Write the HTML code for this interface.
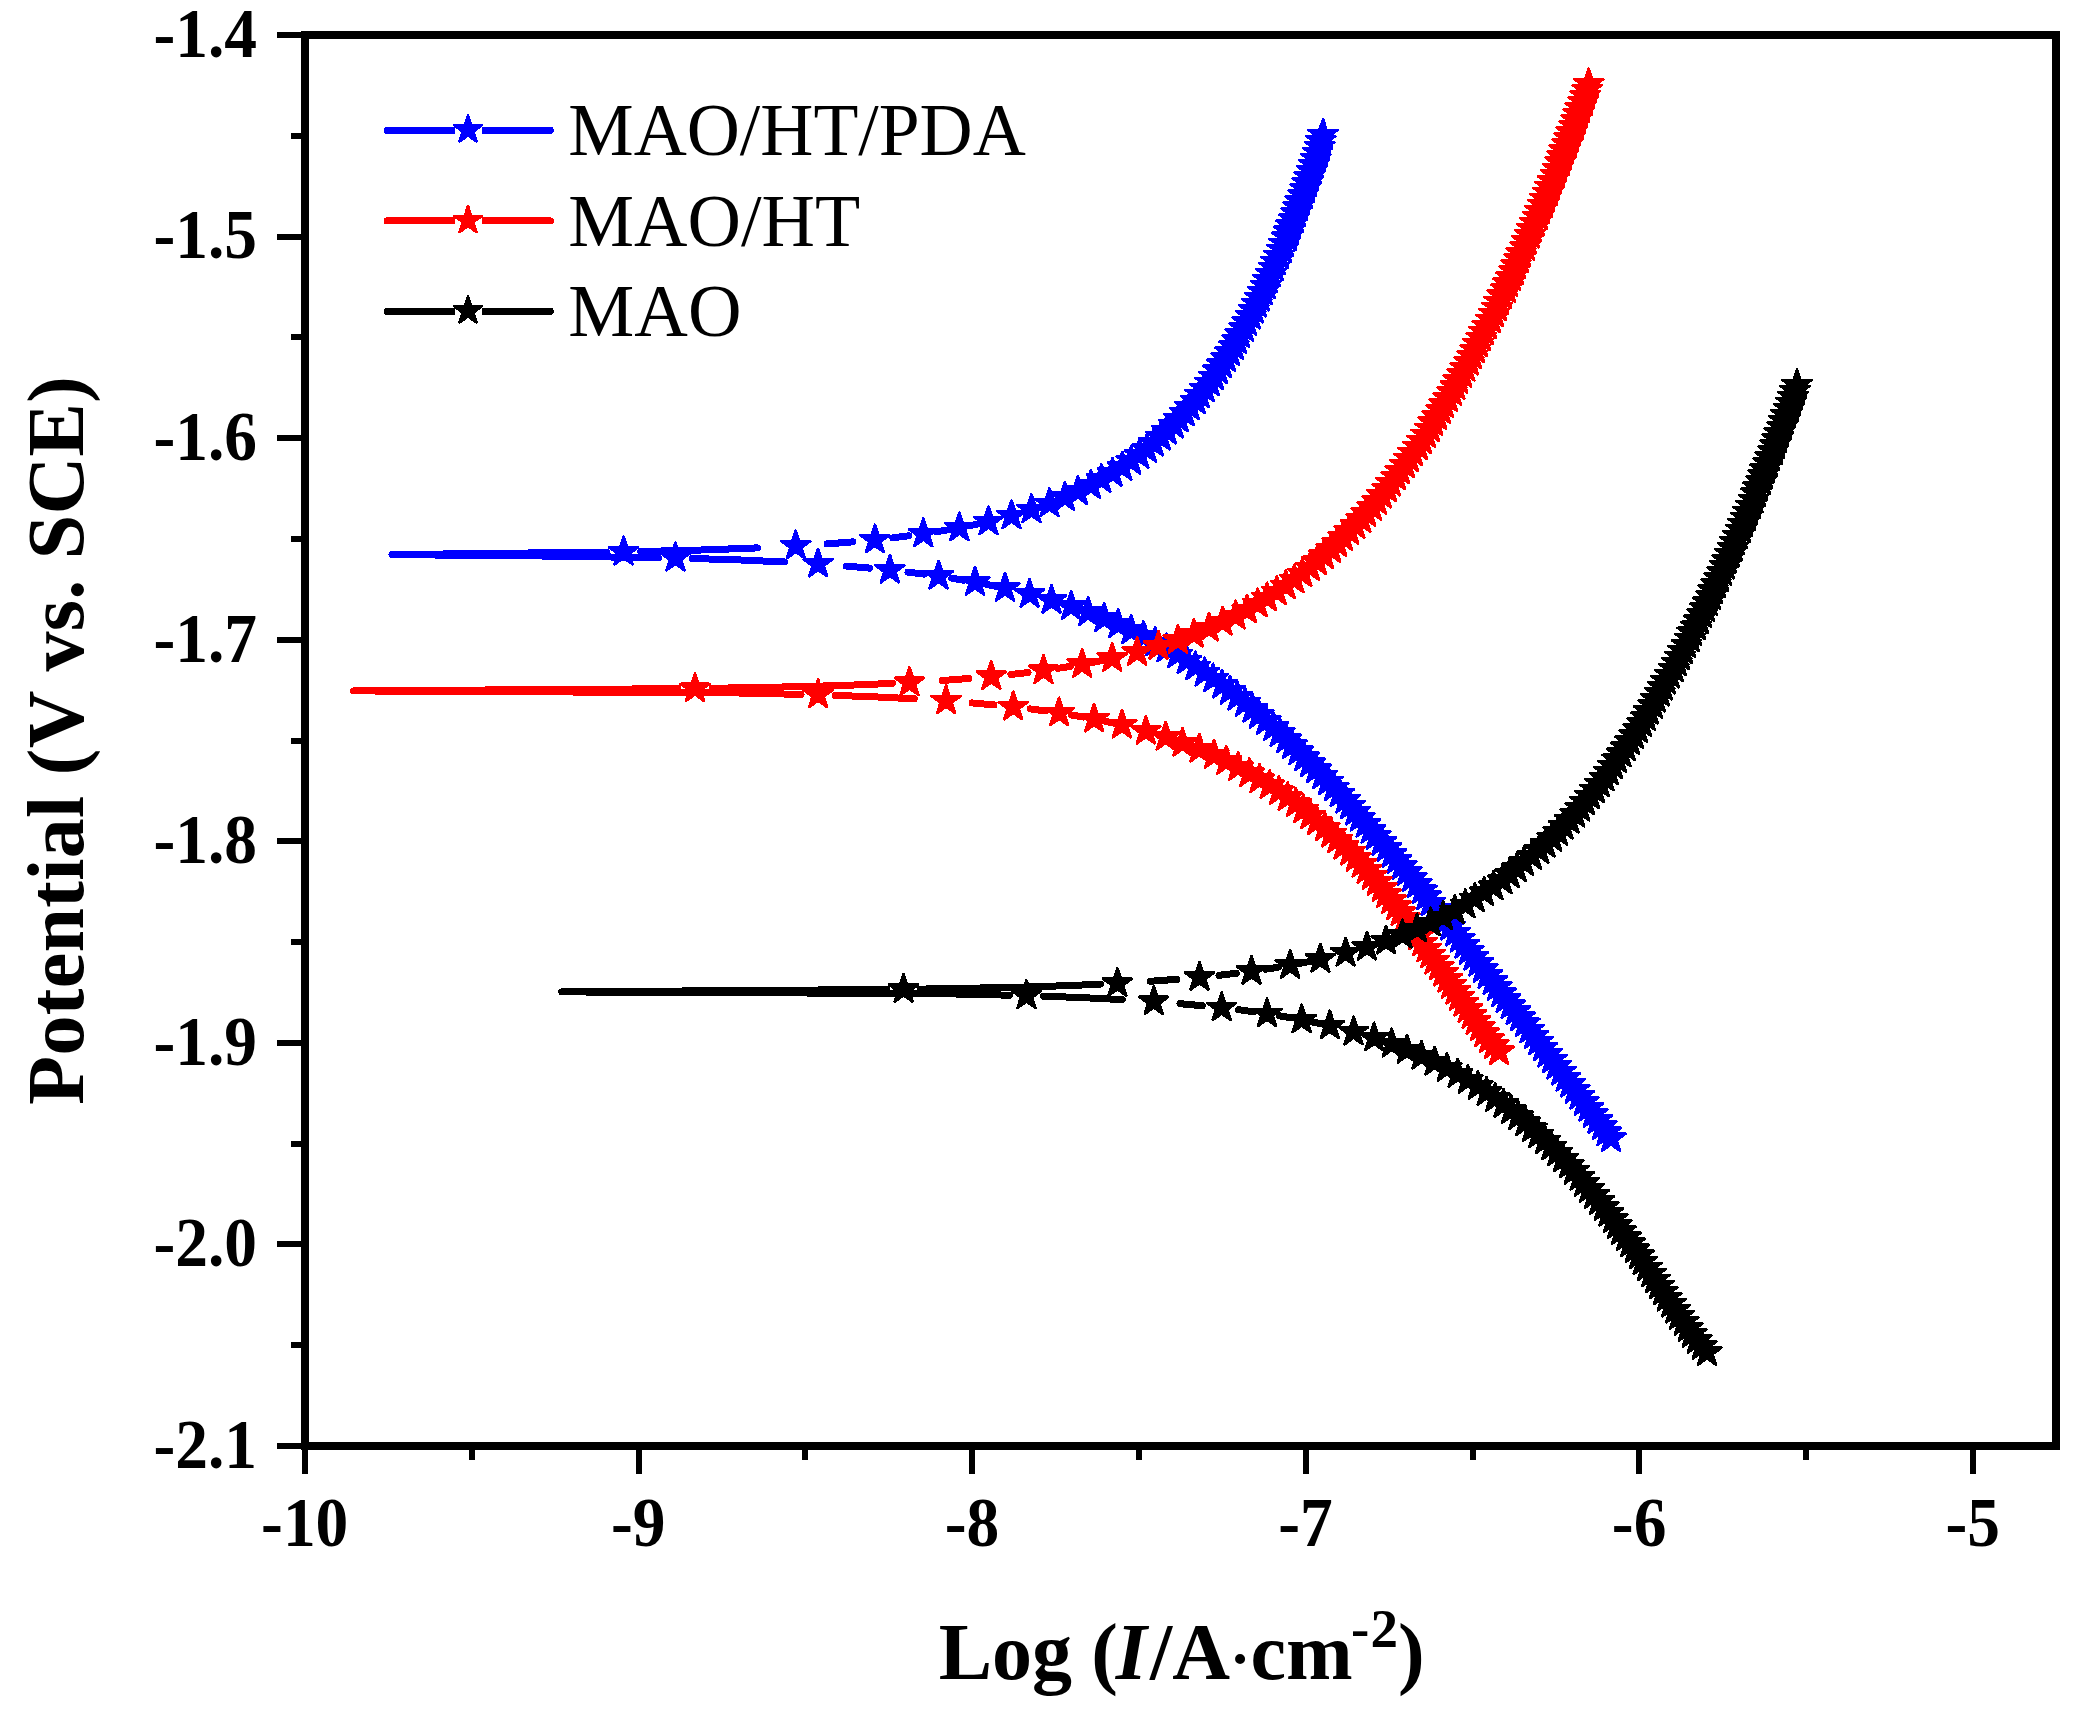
<!DOCTYPE html>
<html lang="en"><head><meta charset="utf-8"><title>Polarization curves</title>
<style>html,body{margin:0;padding:0;background:#fff}svg{display:block}text{font-family:"Liberation Serif","Times New Roman",serif;fill:#000}.tk{font-weight:bold;font-size:70px}.ti{font-weight:bold;font-size:80px}.lg{font-size:75px}</style></head><body>
<svg width="2079" height="1712" viewBox="0 0 2079 1712">
<rect width="2079" height="1712" fill="#fff"/>
<defs><polygon id="st" points="0,-15.1 3.4,-4.7 14.4,-4.7 5.5,1.8 8.9,12.2 0,5.8 -8.9,12.2 -5.5,1.8 -14.4,-4.7 -3.4,-4.7"/></defs>
<g fill="#0000ff" stroke="#0000ff">
<path d="M979.4 523.7L969.8 525.7M948.4 529.8L936.4 531.8M908.9 535.8L892.9 537.8M852.8 541.9L827 543.9M757.4 547.9L705.2 549.9L640.6 551.5M606.6 552.1L392 554.6L541.4 556L658.4 557.7M692.4 558.5L740.6 560L784.7 562M846.2 566.1L869.7 568.1M908 572.1L924.1 574.1M951.8 578.2L963.8 580.2M985.7 584.2L995.6 586.2" fill="none" stroke-width="7" stroke-linecap="round" stroke-linejoin="round" shape-rendering="crispEdges"/>
<g stroke-width="2.8" stroke-linejoin="round" shape-rendering="crispEdges">
<use href="#st" x="1323.1" y="134.7"/><use href="#st" x="1320.9" y="140.8"/><use href="#st" x="1319.9" y="146.8"/><use href="#st" x="1317.7" y="152.8"/><use href="#st" x="1315.9" y="158.9"/><use href="#st" x="1313.9" y="164.9"/><use href="#st" x="1311.8" y="171"/><use href="#st" x="1309.1" y="177"/><use href="#st" x="1307.1" y="183.1"/><use href="#st" x="1305.1" y="189.1"/><use href="#st" x="1303" y="195.2"/><use href="#st" x="1300" y="201.2"/><use href="#st" x="1298" y="207.3"/><use href="#st" x="1296" y="213.3"/><use href="#st" x="1293.9" y="219.4"/><use href="#st" x="1290.9" y="225.4"/><use href="#st" x="1288.9" y="231.5"/><use href="#st" x="1286.9" y="237.5"/><use href="#st" x="1284" y="243.6"/><use href="#st" x="1282" y="249.6"/><use href="#st" x="1278.9" y="255.6"/><use href="#st" x="1275.9" y="261.7"/><use href="#st" x="1273.9" y="267.7"/><use href="#st" x="1270.9" y="273.8"/><use href="#st" x="1267.8" y="279.8"/><use href="#st" x="1265.8" y="285.9"/><use href="#st" x="1262.8" y="291.9"/><use href="#st" x="1259.9" y="298"/><use href="#st" x="1256.9" y="304"/><use href="#st" x="1253.8" y="310.1"/><use href="#st" x="1250.8" y="316.1"/><use href="#st" x="1246.9" y="322.2"/><use href="#st" x="1243.9" y="328.2"/><use href="#st" x="1239.9" y="334.3"/><use href="#st" x="1236.9" y="340.3"/><use href="#st" x="1233.9" y="346.4"/><use href="#st" x="1229.9" y="352.4"/><use href="#st" x="1226" y="358.4"/><use href="#st" x="1221.9" y="364.5"/><use href="#st" x="1217.9" y="370.5"/><use href="#st" x="1213.9" y="376.6"/><use href="#st" x="1209.8" y="382.6"/><use href="#st" x="1204.8" y="388.7"/><use href="#st" x="1199.9" y="394.7"/><use href="#st" x="1195.8" y="400.8"/><use href="#st" x="1189.8" y="406.8"/><use href="#st" x="1184.8" y="412.9"/><use href="#st" x="1178.8" y="418.9"/><use href="#st" x="1173.9" y="425"/><use href="#st" x="1166.8" y="431"/><use href="#st" x="1160.8" y="437.1"/><use href="#st" x="1153.8" y="443.1"/><use href="#st" x="1146.9" y="449.2"/><use href="#st" x="1139.4" y="455.2"/><use href="#st" x="1131.2" y="461.2"/><use href="#st" x="1122.4" y="467.3"/><use href="#st" x="1112.6" y="473.3"/><use href="#st" x="1101.4" y="479.4"/><use href="#st" x="1090.9" y="485.4"/><use href="#st" x="1077.9" y="491.5"/><use href="#st" x="1064.9" y="497.5"/><use href="#st" x="1049.5" y="503.6"/><use href="#st" x="1031.5" y="509.6"/><use href="#st" x="1011.5" y="515.7"/><use href="#st" x="988.5" y="521.7"/><use href="#st" x="959.4" y="527.8"/><use href="#st" x="923.3" y="533.8"/><use href="#st" x="874.9" y="539.9"/><use href="#st" x="795.8" y="545.9"/><use href="#st" x="623.6" y="552"/><use href="#st" x="675.4" y="558"/><use href="#st" x="818.1" y="564"/><use href="#st" x="889.9" y="570.1"/><use href="#st" x="938.6" y="576.1"/><use href="#st" x="975" y="582.2"/><use href="#st" x="1005" y="588.2"/><use href="#st" x="1029.6" y="594.3"/><use href="#st" x="1051.5" y="600.3"/><use href="#st" x="1071.1" y="606.4"/><use href="#st" x="1088.3" y="612.4"/><use href="#st" x="1104.3" y="618.5"/><use href="#st" x="1118.3" y="624.5"/><use href="#st" x="1131.3" y="630.6"/><use href="#st" x="1143.5" y="636.6"/><use href="#st" x="1155.1" y="642.7"/><use href="#st" x="1166.5" y="648.7"/><use href="#st" x="1177.3" y="654.8"/><use href="#st" x="1186.7" y="660.8"/><use href="#st" x="1195.4" y="666.8"/><use href="#st" x="1204.7" y="672.9"/><use href="#st" x="1213.1" y="678.9"/><use href="#st" x="1222.1" y="685"/><use href="#st" x="1230" y="691"/><use href="#st" x="1237.4" y="697.1"/><use href="#st" x="1245.1" y="703.1"/><use href="#st" x="1252.4" y="709.2"/><use href="#st" x="1258.9" y="715.2"/><use href="#st" x="1266.1" y="721.3"/><use href="#st" x="1273.3" y="727.3"/><use href="#st" x="1279.8" y="733.4"/><use href="#st" x="1286.3" y="739.4"/><use href="#st" x="1292" y="745.5"/><use href="#st" x="1298.5" y="751.5"/><use href="#st" x="1304.3" y="757.6"/><use href="#st" x="1310.1" y="763.6"/><use href="#st" x="1316.1" y="769.6"/><use href="#st" x="1322.3" y="775.7"/><use href="#st" x="1328.1" y="781.7"/><use href="#st" x="1333.9" y="787.8"/><use href="#st" x="1339.7" y="793.8"/><use href="#st" x="1345.4" y="799.9"/><use href="#st" x="1350" y="805.9"/><use href="#st" x="1355.2" y="812"/><use href="#st" x="1359.9" y="818"/><use href="#st" x="1365.7" y="824.1"/><use href="#st" x="1370.7" y="830.1"/><use href="#st" x="1375.8" y="836.2"/><use href="#st" x="1381.6" y="842.2"/><use href="#st" x="1386.6" y="848.3"/><use href="#st" x="1391.7" y="854.3"/><use href="#st" x="1396.7" y="860.3"/><use href="#st" x="1401.8" y="866.4"/><use href="#st" x="1406.8" y="872.4"/><use href="#st" x="1411.9" y="878.5"/><use href="#st" x="1416.9" y="884.5"/><use href="#st" x="1422" y="890.6"/><use href="#st" x="1426.3" y="896.6"/><use href="#st" x="1430.7" y="902.7"/><use href="#st" x="1435" y="908.7"/><use href="#st" x="1439.8" y="914.8"/><use href="#st" x="1445" y="920.8"/><use href="#st" x="1450.2" y="926.9"/><use href="#st" x="1455.2" y="932.9"/><use href="#st" x="1459.9" y="939"/><use href="#st" x="1464.6" y="945"/><use href="#st" x="1468.9" y="951.1"/><use href="#st" x="1473.5" y="957.1"/><use href="#st" x="1478.3" y="963.1"/><use href="#st" x="1482.9" y="969.2"/><use href="#st" x="1487.6" y="975.2"/><use href="#st" x="1492.7" y="981.3"/><use href="#st" x="1497" y="987.3"/><use href="#st" x="1501.4" y="993.4"/><use href="#st" x="1505.7" y="999.4"/><use href="#st" x="1510.7" y="1005.5"/><use href="#st" x="1515.8" y="1011.5"/><use href="#st" x="1520.1" y="1017.6"/><use href="#st" x="1524.9" y="1023.6"/><use href="#st" x="1529.5" y="1029.7"/><use href="#st" x="1533.8" y="1035.7"/><use href="#st" x="1538.2" y="1041.8"/><use href="#st" x="1542.8" y="1047.8"/><use href="#st" x="1547.4" y="1053.9"/><use href="#st" x="1552" y="1059.9"/><use href="#st" x="1556.5" y="1065.9"/><use href="#st" x="1561.1" y="1072"/><use href="#st" x="1565.7" y="1078"/><use href="#st" x="1570.2" y="1084.1"/><use href="#st" x="1574.8" y="1090.1"/><use href="#st" x="1579.3" y="1096.2"/><use href="#st" x="1583.9" y="1102.2"/><use href="#st" x="1588.4" y="1108.3"/><use href="#st" x="1592.9" y="1114.3"/><use href="#st" x="1597.5" y="1120.4"/><use href="#st" x="1602" y="1126.4"/><use href="#st" x="1606.5" y="1132.5"/><use href="#st" x="1611" y="1138.5"/>
</g></g>
<g fill="#ff0000" stroke="#ff0000">
<path d="M1102.9 660.4L1092.9 662.4M1070.4 666.4L1057.6 668.4M1028.1 672.5L1010.9 674.5M968.9 678.5L942.3 680.5M892.5 683.3L866.4 684.6L804.8 686.6L712 688.3M678 688.7L353.7 690.9L730.2 692.8L801.1 694.4M835.1 695.4L873.9 696.8L914.3 698.8M972 702.9L994 704.9M1030.1 708.9L1045.3 710.9M1071.7 715L1083.3 717M1104 721L1113.2 723" fill="none" stroke-width="7" stroke-linecap="round" stroke-linejoin="round" shape-rendering="crispEdges"/>
<g stroke-width="2.8" stroke-linejoin="round" shape-rendering="crispEdges">
<use href="#st" x="1588.8" y="83.9"/><use href="#st" x="1587.2" y="89.9"/><use href="#st" x="1585.1" y="96"/><use href="#st" x="1583.2" y="102"/><use href="#st" x="1580.1" y="108.1"/><use href="#st" x="1578.1" y="114.1"/><use href="#st" x="1576.1" y="120.2"/><use href="#st" x="1574.2" y="126.2"/><use href="#st" x="1571.2" y="132.3"/><use href="#st" x="1569.2" y="138.3"/><use href="#st" x="1567.2" y="144.4"/><use href="#st" x="1564.1" y="150.4"/><use href="#st" x="1562.1" y="156.5"/><use href="#st" x="1560.2" y="162.5"/><use href="#st" x="1557.2" y="168.6"/><use href="#st" x="1555.2" y="174.6"/><use href="#st" x="1552.2" y="180.7"/><use href="#st" x="1550.1" y="186.7"/><use href="#st" x="1548.1" y="192.7"/><use href="#st" x="1545.1" y="198.8"/><use href="#st" x="1543.1" y="204.8"/><use href="#st" x="1540" y="210.9"/><use href="#st" x="1538" y="216.9"/><use href="#st" x="1535" y="223"/><use href="#st" x="1532" y="229"/><use href="#st" x="1529.9" y="235.1"/><use href="#st" x="1526.9" y="241.1"/><use href="#st" x="1524.9" y="247.2"/><use href="#st" x="1521" y="253.2"/><use href="#st" x="1519" y="259.3"/><use href="#st" x="1516.1" y="265.3"/><use href="#st" x="1514.1" y="271.4"/><use href="#st" x="1511" y="277.4"/><use href="#st" x="1508" y="283.5"/><use href="#st" x="1506" y="289.5"/><use href="#st" x="1502.1" y="295.5"/><use href="#st" x="1499" y="301.6"/><use href="#st" x="1497" y="307.6"/><use href="#st" x="1494.1" y="313.7"/><use href="#st" x="1491" y="319.7"/><use href="#st" x="1487.2" y="325.8"/><use href="#st" x="1484" y="331.8"/><use href="#st" x="1481.2" y="337.9"/><use href="#st" x="1478" y="343.9"/><use href="#st" x="1475.1" y="350"/><use href="#st" x="1472.1" y="356"/><use href="#st" x="1469" y="362.1"/><use href="#st" x="1465.3" y="368.1"/><use href="#st" x="1462.1" y="374.2"/><use href="#st" x="1458.1" y="380.2"/><use href="#st" x="1455.3" y="386.3"/><use href="#st" x="1452.1" y="392.3"/><use href="#st" x="1448" y="398.3"/><use href="#st" x="1444" y="404.4"/><use href="#st" x="1441.1" y="410.4"/><use href="#st" x="1437.2" y="416.5"/><use href="#st" x="1433.2" y="422.5"/><use href="#st" x="1430" y="428.6"/><use href="#st" x="1426.1" y="434.6"/><use href="#st" x="1422.1" y="440.7"/><use href="#st" x="1418" y="446.7"/><use href="#st" x="1413.1" y="452.8"/><use href="#st" x="1409.1" y="458.8"/><use href="#st" x="1405" y="464.9"/><use href="#st" x="1400.1" y="470.9"/><use href="#st" x="1396.1" y="477"/><use href="#st" x="1391" y="483"/><use href="#st" x="1387.1" y="489"/><use href="#st" x="1381.9" y="495.1"/><use href="#st" x="1377" y="501.1"/><use href="#st" x="1372" y="507.2"/><use href="#st" x="1366.1" y="513.2"/><use href="#st" x="1361.2" y="519.3"/><use href="#st" x="1355.3" y="525.3"/><use href="#st" x="1349.2" y="531.4"/><use href="#st" x="1343.1" y="537.4"/><use href="#st" x="1337.2" y="543.5"/><use href="#st" x="1331.2" y="549.5"/><use href="#st" x="1323.9" y="555.6"/><use href="#st" x="1317" y="561.6"/><use href="#st" x="1310.2" y="567.7"/><use href="#st" x="1302.3" y="573.7"/><use href="#st" x="1294.4" y="579.8"/><use href="#st" x="1285.9" y="585.8"/><use href="#st" x="1276.9" y="591.8"/><use href="#st" x="1267.1" y="597.9"/><use href="#st" x="1257.7" y="603.9"/><use href="#st" x="1247.1" y="610"/><use href="#st" x="1235.7" y="616"/><use href="#st" x="1222.7" y="622.1"/><use href="#st" x="1209" y="628.1"/><use href="#st" x="1193.8" y="634.2"/><use href="#st" x="1177.9" y="640.2"/><use href="#st" x="1158.5" y="646.3"/><use href="#st" x="1137.2" y="652.3"/><use href="#st" x="1112.2" y="658.4"/><use href="#st" x="1082.2" y="664.4"/><use href="#st" x="1043.5" y="670.5"/><use href="#st" x="991.3" y="676.5"/><use href="#st" x="909.5" y="682.6"/><use href="#st" x="695" y="688.6"/><use href="#st" x="818.1" y="694.8"/><use href="#st" x="946.1" y="700.8"/><use href="#st" x="1013.2" y="706.9"/><use href="#st" x="1059.1" y="712.9"/><use href="#st" x="1094.1" y="719"/><use href="#st" x="1121.9" y="725"/><use href="#st" x="1145.8" y="731.1"/><use href="#st" x="1165.7" y="737.1"/><use href="#st" x="1182.5" y="743.2"/><use href="#st" x="1199.3" y="749.2"/><use href="#st" x="1214" y="755.3"/><use href="#st" x="1226.3" y="761.3"/><use href="#st" x="1238.2" y="767.4"/><use href="#st" x="1249.4" y="773.4"/><use href="#st" x="1259.5" y="779.5"/><use href="#st" x="1269.6" y="785.5"/><use href="#st" x="1278.9" y="791.6"/><use href="#st" x="1287.6" y="797.6"/><use href="#st" x="1295.9" y="803.6"/><use href="#st" x="1303.4" y="809.7"/><use href="#st" x="1310.3" y="815.7"/><use href="#st" x="1316.9" y="821.8"/><use href="#st" x="1324.9" y="827.8"/><use href="#st" x="1331.3" y="833.9"/><use href="#st" x="1337.1" y="839.9"/><use href="#st" x="1343.6" y="846"/><use href="#st" x="1350.1" y="852"/><use href="#st" x="1355.9" y="858.1"/><use href="#st" x="1361.7" y="864.1"/><use href="#st" x="1366.7" y="870.2"/><use href="#st" x="1371.8" y="876.2"/><use href="#st" x="1376.8" y="882.3"/><use href="#st" x="1381.9" y="888.3"/><use href="#st" x="1386.2" y="894.4"/><use href="#st" x="1391.2" y="900.4"/><use href="#st" x="1396.3" y="906.4"/><use href="#st" x="1400.6" y="912.5"/><use href="#st" x="1404.9" y="918.5"/><use href="#st" x="1409.3" y="924.6"/><use href="#st" x="1413.6" y="930.6"/><use href="#st" x="1418" y="936.7"/><use href="#st" x="1422.3" y="942.7"/><use href="#st" x="1426.6" y="948.8"/><use href="#st" x="1430.2" y="954.8"/><use href="#st" x="1434.5" y="960.9"/><use href="#st" x="1438.9" y="966.9"/><use href="#st" x="1443.2" y="973"/><use href="#st" x="1447.5" y="979"/><use href="#st" x="1451.1" y="985.1"/><use href="#st" x="1455.4" y="991.1"/><use href="#st" x="1459.1" y="997.1"/><use href="#st" x="1463.4" y="1003.2"/><use href="#st" x="1467.7" y="1009.2"/><use href="#st" x="1471.6" y="1015.3"/><use href="#st" x="1475.6" y="1021.3"/><use href="#st" x="1480" y="1027.4"/><use href="#st" x="1484.3" y="1033.4"/><use href="#st" x="1489" y="1039.5"/><use href="#st" x="1493.9" y="1045.5"/><use href="#st" x="1499.1" y="1051.6"/>
</g></g>
<g fill="#000000" stroke="#000000">
<path d="M1311 961.2L1301 963.2M1278.4 967.2L1265.6 969.2M1236.2 973.3L1219 975.3M1177 979.3L1150.3 981.3M1100.4 984.1L1074.4 985.4L1012.9 987.4L920.6 989.1M886.6 989.5L561.8 991.9L938.3 993.6L1009.5 995.2M1043.5 996.2L1082 997.6L1122.2 999.6M1180 1003.7L1202.3 1005.7M1238.4 1009.7L1253.4 1011.7M1279.5 1015.8L1291 1017.8M1311.7 1021.8L1321 1023.8" fill="none" stroke-width="7" stroke-linecap="round" stroke-linejoin="round" shape-rendering="crispEdges"/>
<g stroke-width="2.8" stroke-linejoin="round" shape-rendering="crispEdges">
<use href="#st" x="1797" y="384.7"/><use href="#st" x="1795.1" y="390.7"/><use href="#st" x="1793" y="396.8"/><use href="#st" x="1791" y="402.8"/><use href="#st" x="1789" y="408.9"/><use href="#st" x="1786.1" y="414.9"/><use href="#st" x="1783.9" y="421"/><use href="#st" x="1782.1" y="427"/><use href="#st" x="1779.1" y="433.1"/><use href="#st" x="1777" y="439.1"/><use href="#st" x="1775.1" y="445.2"/><use href="#st" x="1773.1" y="451.2"/><use href="#st" x="1770.1" y="457.3"/><use href="#st" x="1768" y="463.3"/><use href="#st" x="1765" y="469.4"/><use href="#st" x="1763" y="475.4"/><use href="#st" x="1761.1" y="481.5"/><use href="#st" x="1758" y="487.5"/><use href="#st" x="1756" y="493.5"/><use href="#st" x="1753.4" y="499.6"/><use href="#st" x="1750.9" y="505.6"/><use href="#st" x="1748" y="511.7"/><use href="#st" x="1746" y="517.7"/><use href="#st" x="1743.1" y="523.8"/><use href="#st" x="1741" y="529.8"/><use href="#st" x="1737.8" y="535.9"/><use href="#st" x="1734.9" y="541.9"/><use href="#st" x="1732.8" y="548"/><use href="#st" x="1729.9" y="554"/><use href="#st" x="1727" y="560.1"/><use href="#st" x="1724.8" y="566.1"/><use href="#st" x="1722" y="572.2"/><use href="#st" x="1719.1" y="578.2"/><use href="#st" x="1715.9" y="584.3"/><use href="#st" x="1713" y="590.3"/><use href="#st" x="1710.9" y="596.3"/><use href="#st" x="1707.8" y="602.4"/><use href="#st" x="1704.9" y="608.4"/><use href="#st" x="1702.1" y="614.5"/><use href="#st" x="1698.9" y="620.5"/><use href="#st" x="1696" y="626.6"/><use href="#st" x="1692.1" y="632.6"/><use href="#st" x="1689.9" y="638.7"/><use href="#st" x="1686.2" y="644.7"/><use href="#st" x="1683" y="650.8"/><use href="#st" x="1680.1" y="656.8"/><use href="#st" x="1676.9" y="662.9"/><use href="#st" x="1673.9" y="668.9"/><use href="#st" x="1670" y="675"/><use href="#st" x="1666" y="681"/><use href="#st" x="1662.8" y="687"/><use href="#st" x="1659.9" y="693.1"/><use href="#st" x="1655.9" y="699.1"/><use href="#st" x="1653" y="705.2"/><use href="#st" x="1648.8" y="711.2"/><use href="#st" x="1645.8" y="717.3"/><use href="#st" x="1641.9" y="723.3"/><use href="#st" x="1638" y="729.4"/><use href="#st" x="1634.1" y="735.4"/><use href="#st" x="1630" y="741.5"/><use href="#st" x="1625.8" y="747.5"/><use href="#st" x="1621.4" y="753.6"/><use href="#st" x="1617.1" y="759.6"/><use href="#st" x="1613" y="765.7"/><use href="#st" x="1608.8" y="771.7"/><use href="#st" x="1604.6" y="777.8"/><use href="#st" x="1599.8" y="783.8"/><use href="#st" x="1595" y="789.8"/><use href="#st" x="1590" y="795.9"/><use href="#st" x="1585" y="801.9"/><use href="#st" x="1580.2" y="808"/><use href="#st" x="1575.2" y="814"/><use href="#st" x="1569.5" y="820.1"/><use href="#st" x="1563.7" y="826.1"/><use href="#st" x="1557.9" y="832.2"/><use href="#st" x="1552.2" y="838.2"/><use href="#st" x="1545.7" y="844.3"/><use href="#st" x="1539.2" y="850.3"/><use href="#st" x="1532" y="856.4"/><use href="#st" x="1524" y="862.4"/><use href="#st" x="1516.8" y="868.5"/><use href="#st" x="1509.6" y="874.5"/><use href="#st" x="1502.4" y="880.6"/><use href="#st" x="1493.4" y="886.6"/><use href="#st" x="1484.2" y="892.6"/><use href="#st" x="1474.8" y="898.7"/><use href="#st" x="1465.4" y="904.7"/><use href="#st" x="1454.9" y="910.8"/><use href="#st" x="1443.1" y="916.8"/><use href="#st" x="1430.8" y="922.9"/><use href="#st" x="1417.1" y="928.9"/><use href="#st" x="1402.4" y="935"/><use href="#st" x="1386.1" y="941"/><use href="#st" x="1367" y="947.1"/><use href="#st" x="1345.7" y="953.1"/><use href="#st" x="1320.4" y="959.2"/><use href="#st" x="1290.2" y="965.2"/><use href="#st" x="1251.5" y="971.3"/><use href="#st" x="1199.5" y="977.3"/><use href="#st" x="1117.4" y="983.4"/><use href="#st" x="903.6" y="989.4"/><use href="#st" x="1026.5" y="995.6"/><use href="#st" x="1153.8" y="1001.6"/><use href="#st" x="1221.7" y="1007.7"/><use href="#st" x="1267" y="1013.7"/><use href="#st" x="1301.7" y="1019.8"/><use href="#st" x="1329.8" y="1025.8"/><use href="#st" x="1353.6" y="1031.9"/><use href="#st" x="1374.1" y="1037.9"/><use href="#st" x="1391.8" y="1044"/><use href="#st" x="1407" y="1050"/><use href="#st" x="1421.5" y="1056.1"/><use href="#st" x="1434.6" y="1062.1"/><use href="#st" x="1446.9" y="1068.2"/><use href="#st" x="1457.7" y="1074.2"/><use href="#st" x="1467.8" y="1080.3"/><use href="#st" x="1477.9" y="1086.3"/><use href="#st" x="1486.6" y="1092.4"/><use href="#st" x="1495.2" y="1098.4"/><use href="#st" x="1503.5" y="1104.4"/><use href="#st" x="1511" y="1110.5"/><use href="#st" x="1518.2" y="1116.5"/><use href="#st" x="1525.4" y="1122.6"/><use href="#st" x="1531.9" y="1128.6"/><use href="#st" x="1538.4" y="1134.7"/><use href="#st" x="1544.9" y="1140.7"/><use href="#st" x="1551.4" y="1146.8"/><use href="#st" x="1557.1" y="1152.8"/><use href="#st" x="1563" y="1158.9"/><use href="#st" x="1568.9" y="1164.9"/><use href="#st" x="1574" y="1171"/><use href="#st" x="1579.7" y="1177"/><use href="#st" x="1584.1" y="1183.1"/><use href="#st" x="1589.1" y="1189.1"/><use href="#st" x="1594.2" y="1195.2"/><use href="#st" x="1599.2" y="1201.2"/><use href="#st" x="1603.9" y="1207.2"/><use href="#st" x="1608.4" y="1213.3"/><use href="#st" x="1613.1" y="1219.3"/><use href="#st" x="1617" y="1225.4"/><use href="#st" x="1621.1" y="1231.4"/><use href="#st" x="1626.1" y="1237.5"/><use href="#st" x="1630.4" y="1243.5"/><use href="#st" x="1634.8" y="1249.6"/><use href="#st" x="1639.1" y="1255.6"/><use href="#st" x="1642.7" y="1261.7"/><use href="#st" x="1647" y="1267.7"/><use href="#st" x="1651.1" y="1273.8"/><use href="#st" x="1655" y="1279.8"/><use href="#st" x="1659" y="1285.9"/><use href="#st" x="1662.9" y="1291.9"/><use href="#st" x="1666.9" y="1298"/><use href="#st" x="1671.1" y="1304"/><use href="#st" x="1675.2" y="1310"/><use href="#st" x="1679.1" y="1316.1"/><use href="#st" x="1683.8" y="1322.1"/><use href="#st" x="1687.9" y="1328.2"/><use href="#st" x="1691.8" y="1334.2"/><use href="#st" x="1696.8" y="1340.3"/><use href="#st" x="1701.9" y="1346.3"/><use href="#st" x="1707" y="1352.4"/>
</g></g>
<g shape-rendering="crispEdges" fill="#000">
<path d="M301 31H2060V1450H301Z M309 39V1442H2052V39Z" fill-rule="evenodd"/>
<rect x="277" y="32.00" width="24" height="6"/>
<rect x="291" y="132.79" width="10" height="6"/>
<rect x="277" y="233.57" width="24" height="6"/>
<rect x="291" y="334.36" width="10" height="6"/>
<rect x="277" y="435.14" width="24" height="6"/>
<rect x="291" y="535.93" width="10" height="6"/>
<rect x="277" y="636.71" width="24" height="6"/>
<rect x="291" y="737.50" width="10" height="6"/>
<rect x="277" y="838.29" width="24" height="6"/>
<rect x="291" y="939.07" width="10" height="6"/>
<rect x="277" y="1039.86" width="24" height="6"/>
<rect x="291" y="1140.64" width="10" height="6"/>
<rect x="277" y="1241.43" width="24" height="6"/>
<rect x="291" y="1342.21" width="10" height="6"/>
<rect x="277" y="1443.00" width="24" height="6"/>
<rect x="302.00" y="1450" width="6" height="24"/>
<rect x="468.80" y="1450" width="6" height="10"/>
<rect x="635.60" y="1450" width="6" height="24"/>
<rect x="802.40" y="1450" width="6" height="10"/>
<rect x="969.20" y="1450" width="6" height="24"/>
<rect x="1136.00" y="1450" width="6" height="10"/>
<rect x="1302.80" y="1450" width="6" height="24"/>
<rect x="1469.60" y="1450" width="6" height="10"/>
<rect x="1636.40" y="1450" width="6" height="24"/>
<rect x="1803.20" y="1450" width="6" height="10"/>
<rect x="1970.00" y="1450" width="6" height="24"/>
</g>
<text class="tk" transform="translate(257,56.80) scale(0.935,1)" text-anchor="end">-1.4</text>
<text class="tk" transform="translate(257,258.37) scale(0.935,1)" text-anchor="end">-1.5</text>
<text class="tk" transform="translate(257,459.94) scale(0.935,1)" text-anchor="end">-1.6</text>
<text class="tk" transform="translate(257,661.51) scale(0.935,1)" text-anchor="end">-1.7</text>
<text class="tk" transform="translate(257,863.09) scale(0.935,1)" text-anchor="end">-1.8</text>
<text class="tk" transform="translate(257,1064.66) scale(0.935,1)" text-anchor="end">-1.9</text>
<text class="tk" transform="translate(257,1266.23) scale(0.935,1)" text-anchor="end">-2.0</text>
<text class="tk" transform="translate(257,1467.80) scale(0.935,1)" text-anchor="end">-2.1</text>
<text class="tk" transform="translate(304.70,1546.2) scale(0.935,1)" text-anchor="middle">-10</text>
<text class="tk" transform="translate(638.30,1546.2) scale(0.935,1)" text-anchor="middle">-9</text>
<text class="tk" transform="translate(971.90,1546.2) scale(0.935,1)" text-anchor="middle">-8</text>
<text class="tk" transform="translate(1305.50,1546.2) scale(0.935,1)" text-anchor="middle">-7</text>
<text class="tk" transform="translate(1639.10,1546.2) scale(0.935,1)" text-anchor="middle">-6</text>
<text class="tk" transform="translate(1972.70,1546.2) scale(0.935,1)" text-anchor="middle">-5</text>
<text class="ti" y="1678.8"><tspan x="938.7">Log </tspan><tspan x="1091.2">(</tspan><tspan x="1115.7" font-style="italic">I</tspan><tspan x="1150.1">/A</tspan><tspan x="1229.7" font-size="62">·</tspan><tspan x="1250.4">cm</tspan><tspan x="1351.1" dy="-32.3" font-size="55">-</tspan><tspan x="1370.5" font-size="55">2</tspan><tspan x="1398" dy="32.3">)</tspan></text>
<text class="ti" transform="translate(83,740.4) rotate(-90)" text-anchor="middle" textLength="728.5" lengthAdjust="spacing">Potential (V vs. SCE)</text>
<g fill="#0000ff" shape-rendering="crispEdges"><rect x="387.2" y="126.75" width="67.8" height="7.1"/><rect x="482" y="126.75" width="68.3" height="7.1"/><circle cx="387.2" cy="130.3" r="3.55"/><circle cx="550.3" cy="130.3" r="3.55"/><use href="#st" transform="translate(468,129.90) scale(0.95)" stroke="#0000ff" stroke-width="2.8" stroke-linejoin="round"/></g>
<text class="lg" x="568.3" y="155.4" textLength="457.5" lengthAdjust="spacingAndGlyphs">MAO/HT/PDA</text>
<g fill="#ff0000" shape-rendering="crispEdges"><rect x="387.2" y="217.35" width="67.8" height="7.1"/><rect x="482" y="217.35" width="68.3" height="7.1"/><circle cx="387.2" cy="220.9" r="3.55"/><circle cx="550.3" cy="220.9" r="3.55"/><use href="#st" transform="translate(468,220.50) scale(0.95)" stroke="#ff0000" stroke-width="2.8" stroke-linejoin="round"/></g>
<text class="lg" x="568.3" y="246.3" textLength="291.8" lengthAdjust="spacingAndGlyphs">MAO/HT</text>
<g fill="#000000" shape-rendering="crispEdges"><rect x="387.2" y="307.75" width="67.8" height="7.1"/><rect x="482" y="307.75" width="68.3" height="7.1"/><circle cx="387.2" cy="311.3" r="3.55"/><circle cx="550.3" cy="311.3" r="3.55"/><use href="#st" transform="translate(468,310.90) scale(0.95)" stroke="#000000" stroke-width="2.8" stroke-linejoin="round"/></g>
<text class="lg" x="568.3" y="335.8" textLength="173.2" lengthAdjust="spacingAndGlyphs">MAO</text>
</svg></body></html>
